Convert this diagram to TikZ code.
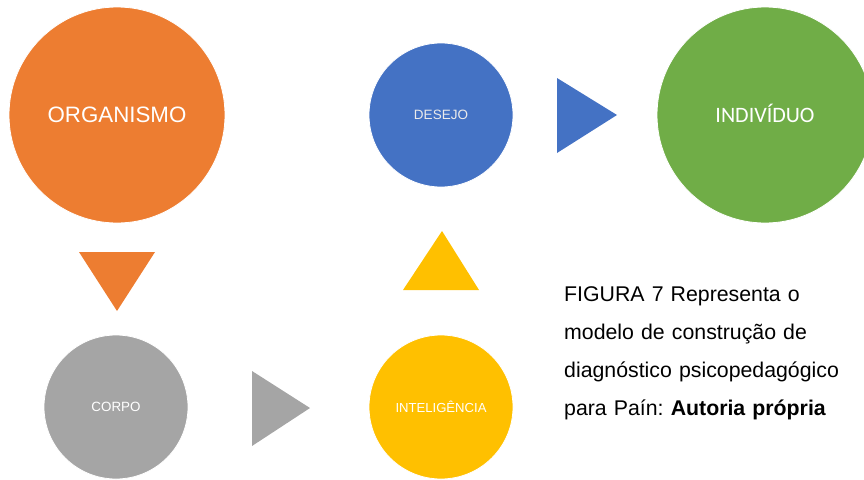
\documentclass[tikz,border=0pt]{standalone}
\usepackage{fontspec}
\setmainfont{Liberation Sans}
\newfontfamily\carlito{Carlito}
\definecolor{accOrange}{HTML}{ED7D31}
\definecolor{accBlue}{HTML}{4472C4}
\definecolor{accGreen}{HTML}{70AD47}
\definecolor{accGrey}{HTML}{A5A5A5}
\definecolor{accGold}{HTML}{FFC000}
\begin{document}
\frenchspacing
\begin{tikzpicture}[x=1pt,y=-1pt,
  bigdisc/.style={circle,draw=white,line width=0.8pt,inner sep=0pt,minimum size=216pt,text=white},
  smalldisc/.style={circle,draw=white,line width=0.8pt,inner sep=0pt,minimum size=144pt,text=white}]
\useasboundingbox (0,0) rectangle (864,479);
\clip (0,0) rectangle (864,479);

% stages of the model
\node[bigdisc,fill=accOrange,font=\fontsize{22.3}{26}\selectfont] (organismo) at (117,115) {ORGANISMO};
\node[smalldisc,fill=accGrey,font=\fontsize{13.4}{16}\selectfont] (corpo) at (116,407) {CORPO};
\node[smalldisc,fill=accGold,font=\fontsize{13.1}{16}\selectfont] (inteligencia) at (441,407) {INTELIGÊNCIA};
\node[smalldisc,fill=accBlue,text=white!92!black,font=\fontsize{13.5}{16}\selectfont] (desejo) at (441,115) {DESEJO};
\node[bigdisc,fill=accGreen,text height=14.2pt,text depth=0pt,
      font=\carlito\fontsize{22}{26}\selectfont] (individuo) at (765,115) {INDIVÍDUO};

% triangular arrows between the stages
\fill[accOrange] (79,252) -- (155,252) -- (117,311) -- cycle;
\fill[accGrey] (252,371) -- (310,408) -- (252,446) -- cycle;
\fill[accGold] (403,290) -- (479,290) -- (442,231) -- cycle;
\fill[accBlue] (557,78) -- (617,115) -- (557,153) -- cycle;

% caption
\node[anchor=north west,inner sep=0pt,align=left,text width=300pt,
      font=\fontsize{21.3}{38}\selectfont] (legenda) at (564,286)
  {FIGURA 7 Representa o\\
   modelo de construção de\\
   diagnóstico psicopedagógico\\
   para Paín: \textbf{Autoria própria}};
\end{tikzpicture}
\end{document}
